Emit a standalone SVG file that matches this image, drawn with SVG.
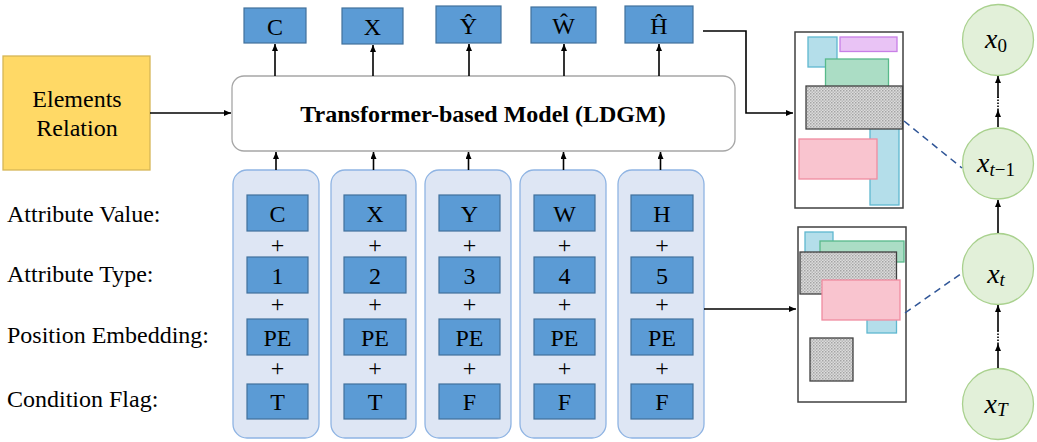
<svg xmlns="http://www.w3.org/2000/svg" width="1037" height="442" viewBox="0 0 1037 442">
<defs>
<style>
.t{font-family:"Liberation Serif","Times New Roman",serif;font-size:24px;fill:#000}
.m{text-anchor:middle}
.blue{fill:#5B9BD5;stroke:#41719C;stroke-width:1.2}
.col{fill:#DEE6F4;stroke:#8FB4E3;stroke-width:1.3}
.ln{stroke:#000;stroke-width:1.6;fill:none}
.dash{stroke:#2F5597;stroke-width:1.5;stroke-dasharray:7,5;fill:none}
.dot{stroke:#000;stroke-width:1.6;stroke-dasharray:1.5,1.5;fill:none}
.panel{fill:#fff;stroke:#404040;stroke-width:1.5}
.lb{fill:#B4DEEA;stroke:#5FB7CF;stroke-width:1.3}
.pu{fill:#E9C3F5;stroke:#C87FE6;stroke-width:1.3}
.gr{fill:#ABDDC5;stroke:#58B98A;stroke-width:1.3}
.pk{fill:#F9C4CF;stroke:#F08CA0;stroke-width:1.3}
.gy{fill:url(#hatch);stroke:#404040;stroke-width:1.3}
.circ{fill:#E2F0D9;stroke:#A9D18E;stroke-width:1.3}
.mx{font-family:"Liberation Serif","Times New Roman",serif;font-style:italic;font-size:28px;fill:#000;text-anchor:middle}
.sub{font-size:19px}
.up{font-style:normal}
</style>
<pattern id="hatch" width="3" height="3" patternUnits="userSpaceOnUse">
<rect width="3" height="3" fill="#DCDCDC"/>
<rect width="1.5" height="1.5" fill="#A4A4A4"/>
<rect x="1.5" y="1.5" width="1.5" height="1.5" fill="#B8B8B8"/>
</pattern>
<marker id="arr" markerWidth="7" markerHeight="6" refX="7" refY="3" orient="auto" markerUnits="userSpaceOnUse">
<path d="M0,0 L7,3 L0,6 z" fill="#000"/>
</marker>
</defs>

<g id="elements-relation">
<rect x="3" y="56" width="147" height="114" fill="#FFD966" stroke="#D6B656" stroke-width="1.3"/>
<text class="t m" x="77" y="107">Elements</text>
<text class="t m" x="77" y="136">Relation</text>
</g>

<g id="labels">
<text class="t" x="7" y="222">Attribute Value:</text>
<text class="t" x="7" y="282">Attribute Type:</text>
<text class="t" x="7" y="343">Position Embedding:</text>
<text class="t" x="7" y="407">Condition Flag:</text>
</g>

<g id="model">
<rect x="232" y="76" width="503" height="75" rx="12" fill="#fff" stroke="#A6A6A6" stroke-width="1.3"/>
<text class="t m" x="483" y="122" font-weight="bold">Transformer-based Model (LDGM)</text>
</g>

<g id="out-C"><rect class="blue" x="244" y="8" width="62" height="35"/><text class="t m" x="275" y="35">C</text></g>
<g id="out-X"><rect class="blue" x="342" y="8" width="61" height="36"/><text class="t m" x="372.5" y="35">X</text></g>
<g id="out-Y"><rect class="blue" x="436" y="6" width="65" height="37"/><text class="t m" x="468.5" y="34">Ŷ</text></g>
<g id="out-W"><rect class="blue" x="531" y="7" width="65" height="36"/><text class="t m" x="563.5" y="34">Ŵ</text></g>
<g id="out-H"><rect class="blue" x="625" y="6" width="68" height="37"/><text class="t m" x="659" y="34">Ĥ</text></g>

<g id="col-1">
<rect class="col" x="233" y="170" width="86" height="268" rx="14"/>
<rect class="blue" x="247" y="195" width="61" height="36"/><text class="t m" x="277.5" y="222">C</text>
<text class="t m" x="277.5" y="253">+</text>
<rect class="blue" x="247" y="257" width="61" height="36"/><text class="t m" x="277.5" y="284">1</text>
<text class="t m" x="277.5" y="312">+</text>
<rect class="blue" x="247" y="319" width="61" height="36"/><text class="t m" x="277.5" y="346">PE</text>
<text class="t m" x="277.5" y="376">+</text>
<rect class="blue" x="247" y="384" width="61" height="35"/><text class="t m" x="277.5" y="410">T</text>
</g>
<g id="col-2">
<rect class="col" x="331" y="170" width="85" height="268" rx="14"/>
<rect class="blue" x="344" y="195" width="62" height="36"/><text class="t m" x="375" y="222">X</text>
<text class="t m" x="375" y="253">+</text>
<rect class="blue" x="344" y="257" width="62" height="36"/><text class="t m" x="375" y="284">2</text>
<text class="t m" x="375" y="312">+</text>
<rect class="blue" x="344" y="319" width="62" height="36"/><text class="t m" x="375" y="346">PE</text>
<text class="t m" x="375" y="376">+</text>
<rect class="blue" x="344" y="384" width="62" height="35"/><text class="t m" x="375" y="410">T</text>
</g>
<g id="col-3">
<rect class="col" x="425" y="170" width="86" height="268" rx="14"/>
<rect class="blue" x="439" y="195" width="61" height="36"/><text class="t m" x="469.5" y="222">Y</text>
<text class="t m" x="469.5" y="253">+</text>
<rect class="blue" x="439" y="257" width="61" height="36"/><text class="t m" x="469.5" y="284">3</text>
<text class="t m" x="469.5" y="312">+</text>
<rect class="blue" x="439" y="319" width="61" height="36"/><text class="t m" x="469.5" y="346">PE</text>
<text class="t m" x="469.5" y="376">+</text>
<rect class="blue" x="439" y="384" width="61" height="35"/><text class="t m" x="469.5" y="410">F</text>
</g>
<g id="col-4">
<rect class="col" x="520" y="170" width="86" height="268" rx="14"/>
<rect class="blue" x="534" y="195" width="61" height="36"/><text class="t m" x="564.5" y="222">W</text>
<text class="t m" x="564.5" y="253">+</text>
<rect class="blue" x="534" y="257" width="61" height="36"/><text class="t m" x="564.5" y="284">4</text>
<text class="t m" x="564.5" y="312">+</text>
<rect class="blue" x="534" y="319" width="61" height="36"/><text class="t m" x="564.5" y="346">PE</text>
<text class="t m" x="564.5" y="376">+</text>
<rect class="blue" x="534" y="384" width="61" height="35"/><text class="t m" x="564.5" y="410">F</text>
</g>
<g id="col-5">
<rect class="col" x="618" y="170" width="86" height="268" rx="14"/>
<rect class="blue" x="631" y="195" width="62" height="36"/><text class="t m" x="662" y="222">H</text>
<text class="t m" x="662" y="253">+</text>
<rect class="blue" x="631" y="257" width="62" height="36"/><text class="t m" x="662" y="284">5</text>
<text class="t m" x="662" y="312">+</text>
<rect class="blue" x="631" y="319" width="62" height="36"/><text class="t m" x="662" y="346">PE</text>
<text class="t m" x="662" y="376">+</text>
<rect class="blue" x="631" y="384" width="62" height="35"/><text class="t m" x="662" y="410">F</text>
</g>

<g id="layout-1">
<rect class="panel" x="795" y="32" width="108" height="176"/>
<rect class="lb" x="808" y="37" width="29" height="30"/>
<rect class="pu" x="840" y="37" width="57" height="14.5"/>
<rect class="gr" x="825.5" y="59" width="63" height="28"/>
<rect class="lb" x="870" y="120" width="29" height="85"/>
<rect class="gy" x="806" y="86" width="96.5" height="43"/>
<rect class="pk" x="799" y="139" width="78" height="40"/>
</g>

<g id="layout-2">
<rect class="panel" x="798" y="227" width="108" height="175"/>
<rect class="lb" x="805" y="232" width="28" height="25"/>
<rect class="gr" x="820" y="241" width="84" height="21"/>
<rect class="gy" x="800" y="252" width="96.5" height="42"/>
<rect class="lb" x="867" y="300" width="29.5" height="33"/>
<rect class="pk" x="822" y="280" width="78" height="40"/>
<rect class="gy" x="810" y="338" width="43" height="43"/>
</g>

<g id="x0"><circle class="circ" cx="998" cy="40" r="35.5"/><text class="mx" x="996" y="48">x<tspan class="sub up" dy="4">0</tspan></text></g>
<g id="xt-1"><circle class="circ" cx="998" cy="163.5" r="35.5"/><text class="mx" x="996" y="172">x<tspan class="sub" dy="4">t</tspan><tspan class="sub up">−1</tspan></text></g>
<g id="xt"><circle class="circ" cx="998" cy="269" r="35.5"/><text class="mx" x="996" y="283">x<tspan class="sub" dy="3">t</tspan></text></g>
<g id="xT"><circle class="circ" cx="998" cy="404" r="35.5"/><text class="mx" x="996" y="413">x<tspan class="sub" dy="3">T</tspan></text></g>

<g id="connectors">
<line class="ln" x1="150" y1="113" x2="231" y2="113" marker-end="url(#arr)"/>
<line class="ln" x1="275" y1="76" x2="275" y2="44" marker-end="url(#arr)"/>
<line class="ln" x1="373" y1="76" x2="373" y2="45" marker-end="url(#arr)"/>
<line class="ln" x1="469" y1="76" x2="469" y2="44" marker-end="url(#arr)"/>
<line class="ln" x1="564" y1="76" x2="564" y2="44" marker-end="url(#arr)"/>
<line class="ln" x1="659" y1="76" x2="659" y2="44" marker-end="url(#arr)"/>
<line class="ln" x1="276" y1="170" x2="276" y2="152" marker-end="url(#arr)"/>
<line class="ln" x1="373.5" y1="170" x2="373.5" y2="152" marker-end="url(#arr)"/>
<line class="ln" x1="468.5" y1="170" x2="468.5" y2="152" marker-end="url(#arr)"/>
<line class="ln" x1="563.5" y1="170" x2="563.5" y2="152" marker-end="url(#arr)"/>
<line class="ln" x1="660.5" y1="170" x2="660.5" y2="152" marker-end="url(#arr)"/>
<polyline class="ln" points="703,31 746,31 746,113 793,113" marker-end="url(#arr)"/>
<line class="ln" x1="704" y1="309" x2="796" y2="309" marker-end="url(#arr)"/>
<line class="dash" x1="904" y1="121" x2="962" y2="168"/>
<line class="dash" x1="905" y1="313" x2="962" y2="273"/>
<line class="ln" x1="998" y1="127" x2="998" y2="110" marker-end="url(#arr)"/>
<line class="dot" x1="998" y1="110" x2="998" y2="97"/>
<line class="ln" x1="998" y1="98" x2="998" y2="76" marker-end="url(#arr)"/>
<line class="ln" x1="998" y1="233" x2="998" y2="200" marker-end="url(#arr)"/>
<line class="ln" x1="998" y1="368" x2="998" y2="344" marker-end="url(#arr)"/>
<line class="dot" x1="998" y1="344" x2="998" y2="330"/>
<line class="ln" x1="998" y1="331" x2="998" y2="305" marker-end="url(#arr)"/>
</g>
</svg>
